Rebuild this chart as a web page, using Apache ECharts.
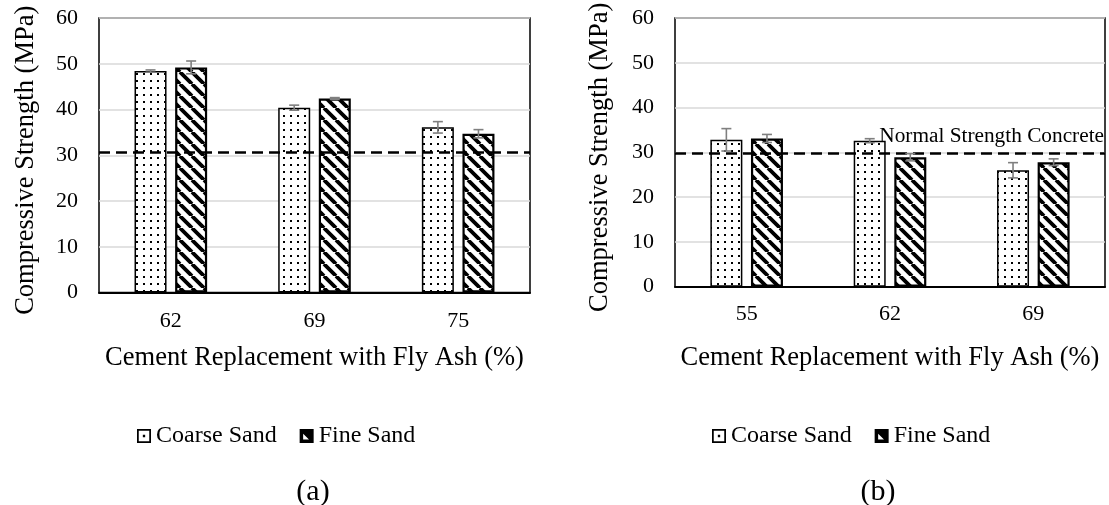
<!DOCTYPE html>
<html>
<head>
<meta charset="utf-8">
<script src="https://cdn.jsdelivr.net/npm/echarts@6/dist/echarts.min.js"></script>
<style>
  html, body { margin: 0; padding: 0; background: #fff; }
  #chart { width: 1109px; height: 505px; }
</style>
</head>
<body>
<div id="chart"></div>
<script>
// panel (a)
const leftCats = ['62', '69', '75'];
const leftCoarse = [48.4, 40.4, 36.1];
const leftCoarseErr = [0.25, 0.55, 1.25];
const leftFine = [49.2, 42.4, 34.7];
const leftFineErr = [1.4, 0.2, 0.9];
const leftRef = 30.6;

// panel (b)
const rightCats = ['55', '62', '69'];
const rightCoarse = [32.8, 32.6, 26.0];
const rightCoarseErr = [2.5, 0.45, 1.7];
const rightFine = [33.1, 28.9, 27.8];
const rightFineErr = [0.9, 0.8, 0.75];
const rightRef = 29.7;

const seriesNames = ['Coarse Sand', 'Fine Sand'];
const yName = 'Compressive Strength (MPa)';
const xName = 'Cement Replacement with Fly Ash (%)';
const refLabel = 'Normal Strength Concrete';
const panelLabels = ['(a)', '(b)'];

const FONT = '"Liberation Serif", "Times New Roman", serif';
const BAR_W = 32;
const BAR_GAP = 8.6;
const OFFSET = (BAR_W + BAR_GAP) / 2;

// legend icons: outlined square with a dot / black square with a light corner
const coarseIcon = 'path://M0,0H12V12H0Z M1.5,1.5V10.5H10.5V1.5Z M5,5H7V7H5Z';
const fineIcon = 'path://M0,0H12V12H0Z M3,4L3,9L8,9Z';

function dotPattern() {
  const c = document.createElement('canvas');
  c.width = 7; c.height = 7;
  const g = c.getContext('2d');
  g.fillStyle = '#fff';
  g.fillRect(0, 0, 7, 7);
  g.fillStyle = '#000';
  g.fillRect(3, 3, 2, 2);
  return c;
}

function stripePattern() {
  const p = 12;
  const c = document.createElement('canvas');
  c.width = p; c.height = p;
  const g = c.getContext('2d');
  g.fillStyle = '#fff';
  g.fillRect(0, 0, p, p);
  g.strokeStyle = '#000';
  g.lineWidth = 3.8;
  g.beginPath();
  [-p, 0, p].forEach(k => {
    g.moveTo(k, 0);
    g.lineTo(k + p, p);
  });
  g.stroke();
  return c;
}

const coarseStyle = {
  color: { image: dotPattern(), repeat: 'repeat' },
  borderColor: '#000',
  borderWidth: 1.5
};
const fineStyle = {
  color: { image: stripePattern(), repeat: 'repeat' },
  borderColor: '#000',
  borderWidth: 2.2
};

function barSeries(name, vals, style, idx, ref, showLabel) {
  const s = {
    name: name,
    type: 'bar',
    xAxisIndex: idx,
    yAxisIndex: idx,
    barWidth: BAR_W,
    barGap: (BAR_GAP / BAR_W * 100) + '%',
    itemStyle: style,
    emphasis: { disabled: true },
    data: vals
  };
  if (ref != null) {
    s.markLine = {
      silent: true,
      symbol: 'none',
      z: 5,
      lineStyle: { color: '#000', type: [11, 6], width: 2.5 },
      label: {
        show: showLabel,
        formatter: refLabel,
        position: 'insideEndTop',
        distance: [1, 7],
        color: '#000',
        fontFamily: FONT,
        fontSize: 21.3
      },
      data: [{ yAxis: ref }]
    };
  }
  return s;
}

function errSeries(vals, errs, side, idx) {
  return {
    type: 'custom',
    name: 'err',
    xAxisIndex: idx,
    yAxisIndex: idx,
    silent: true,
    z: 10,
    data: vals.map((v, i) => [i, v, errs[i]]),
    encode: { x: 0, y: 1 },
    renderItem: function (params, api) {
      const i = api.value(0);
      const v = api.value(1);
      const e = api.value(2);
      const hi = api.coord([i, v + e]);
      const lo = api.coord([i, v - e]);
      const x = hi[0] + side * OFFSET;
      const st = { stroke: '#7f7f7f', lineWidth: 1.6 };
      return {
        type: 'group',
        children: [
          { type: 'line', shape: { x1: x, y1: hi[1], x2: x, y2: lo[1] }, style: st },
          { type: 'line', shape: { x1: x - 5, y1: hi[1], x2: x + 5, y2: hi[1] }, style: st },
          { type: 'line', shape: { x1: x - 5, y1: lo[1], x2: x + 5, y2: lo[1] }, style: st }
        ]
      };
    }
  };
}

function xAxis(idx, cats, margin, nameGap) {
  return {
    type: 'category',
    gridIndex: idx,
    data: cats,
    axisTick: { show: false },
    axisLine: { lineStyle: { color: '#000', width: 2 } },
    axisLabel: { color: '#000', fontFamily: FONT, fontSize: 22, margin: margin },
    name: xName,
    nameLocation: 'middle',
    nameGap: nameGap,
    nameTextStyle: { color: '#000', fontFamily: FONT, fontSize: 26.5 }
  };
}

function yAxis(idx, nameGap) {
  return {
    type: 'value',
    gridIndex: idx,
    min: 0,
    max: 60,
    interval: 10,
    axisLine: { show: false },
    axisTick: { show: false },
    splitLine: { lineStyle: { color: '#d9d9d9', width: 1.5 } },
    axisLabel: { color: '#000', fontFamily: FONT, fontSize: 22, margin: 21 },
    name: yName,
    nameLocation: 'middle',
    nameGap: nameGap,
    nameTextStyle: { color: '#000', fontFamily: FONT, fontSize: 26.5, padding: [0, 10, 0, 0] }
  };
}

function legend(left) {
  return {
    left: left,
    top: 419,
    itemWidth: 14,
    itemHeight: 14,
    itemGap: 23,
    selectedMode: false,
    data: [
      { name: seriesNames[0], icon: coarseIcon, itemStyle: { color: '#000', borderWidth: 0 } },
      { name: seriesNames[1], icon: fineIcon, itemStyle: { color: '#000', borderWidth: 0 } }
    ],
    textStyle: { color: '#000', fontFamily: FONT, fontSize: 24 }
  };
}

const option = {
  animation: false,
  backgroundColor: '#fff',
  grid: [
    { left: 99, top: 18, width: 431, height: 274.5, show: true, borderColor: '#000', borderWidth: 1.5 },
    { left: 675, top: 18, width: 430, height: 268.7, show: true, borderColor: '#000', borderWidth: 1.5 }
  ],
  xAxis: [xAxis(0, leftCats, 18, 52), xAxis(1, rightCats, 17, 58)],
  yAxis: [yAxis(0, 59), yAxis(1, 61)],
  legend: [legend(132), legend(707)],
  graphic: [
    { type: 'text', x: 313, y: 492, style: { text: panelLabels[0], fill: '#000', font: '30px ' + FONT, textAlign: 'center', textVerticalAlign: 'middle' } },
    { type: 'text', x: 878, y: 492, style: { text: panelLabels[1], fill: '#000', font: '30px ' + FONT, textAlign: 'center', textVerticalAlign: 'middle' } }
  ],
  series: [
    barSeries(seriesNames[0], leftCoarse, coarseStyle, 0, null, false),
    barSeries(seriesNames[1], leftFine, fineStyle, 0, leftRef, false),
    barSeries(seriesNames[0], rightCoarse, coarseStyle, 1, null, false),
    barSeries(seriesNames[1], rightFine, fineStyle, 1, rightRef, true),
    errSeries(leftCoarse, leftCoarseErr, -1, 0),
    errSeries(leftFine, leftFineErr, 1, 0),
    errSeries(rightCoarse, rightCoarseErr, -1, 1),
    errSeries(rightFine, rightFineErr, 1, 1)
  ]
};

const chart = echarts.init(document.getElementById('chart'));
chart.setOption(option);
</script>
</body>
</html>
